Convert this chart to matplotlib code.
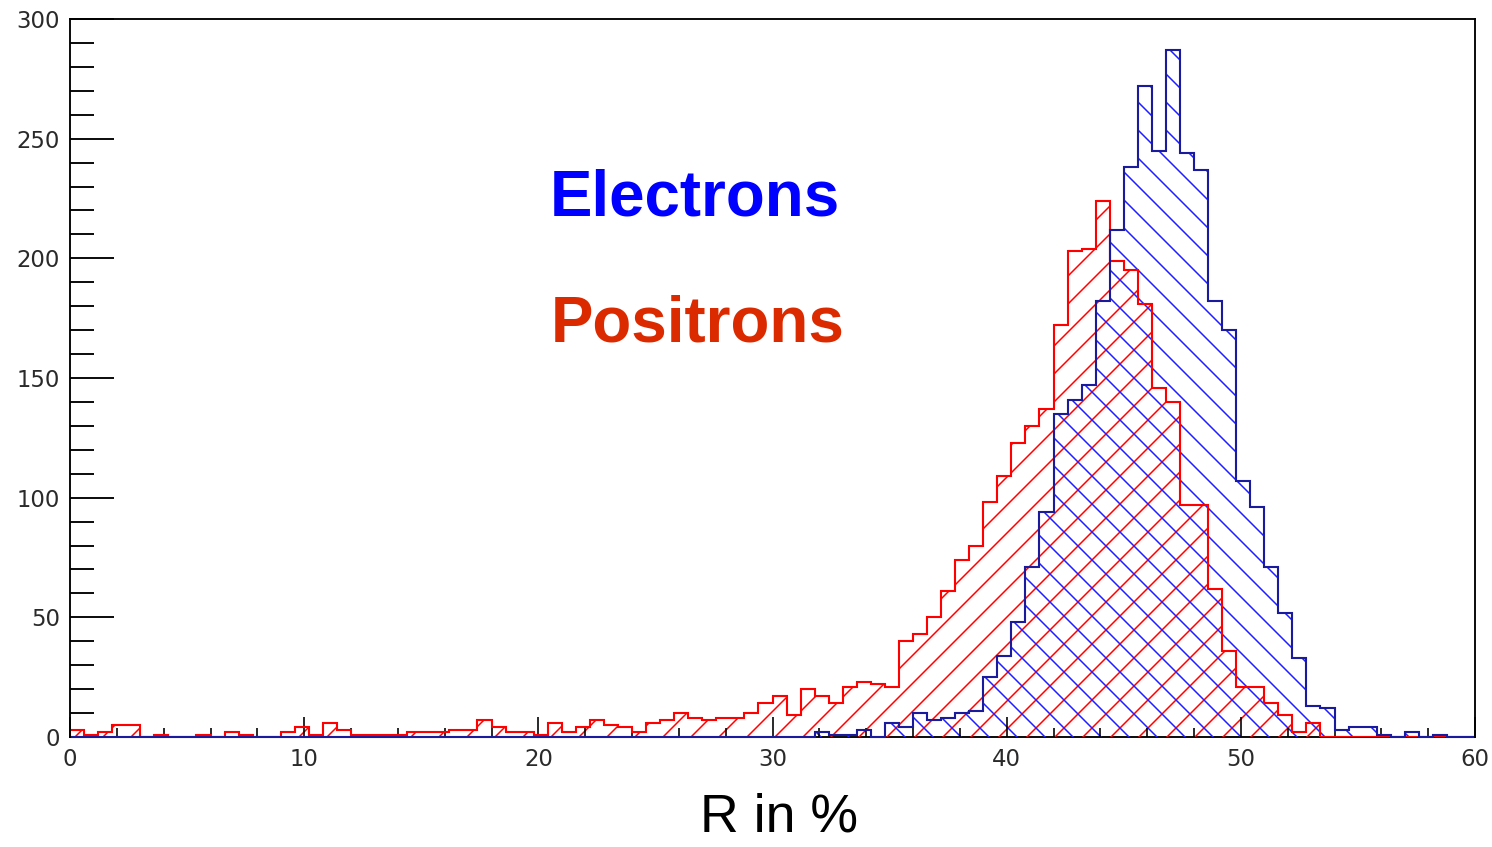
import numpy as np
import matplotlib
matplotlib.use("Agg")
import matplotlib.pyplot as plt

# histogram range and binning (100 bins of 0.6 %)
r_min, r_max, n_bins = 0, 60, 100

# counts per bin
positrons = [3, 1, 2, 5, 5, 0, 1, 0, 0, 1,
             0, 2, 1, 0, 0, 2, 4, 1, 6, 3,
             1, 1, 1, 1, 2, 2, 2, 3, 3, 7,
             4, 2, 2, 1, 6, 2, 4, 7, 5, 4,
             2, 6, 7, 10, 8, 7, 8, 8, 10, 14,
             17, 9, 20, 17, 14, 21, 23, 22, 21, 40,
             43, 50, 61, 74, 80, 98, 109, 123, 130, 137,
             172, 203, 204, 224, 199, 195, 181, 146, 140, 97,
             97, 62, 36, 21, 21, 14, 9, 2, 6, 0,
             0, 0, 0, 0, 0, 0, 0, 0, 0, 0]

electrons = [0, 0, 0, 0, 0, 0, 0, 0, 0, 0,
             0, 0, 0, 0, 0, 0, 0, 0, 0, 0,
             0, 0, 0, 0, 0, 0, 0, 0, 0, 0,
             0, 0, 0, 0, 0, 0, 0, 0, 0, 0,
             0, 0, 0, 0, 0, 0, 0, 0, 0, 0,
             0, 0, 0, 2, 1, 1, 3, 0, 6, 4,
             10, 7, 8, 10, 11, 25, 34, 48, 71, 94,
             135, 141, 147, 182, 212, 238, 272, 245, 287, 244,
             237, 182, 170, 107, 96, 71, 52, 33, 13, 12,
             3, 4, 4, 1, 0, 2, 0, 1, 0, 0]

edges = np.linspace(r_min, r_max, n_bins + 1)

DPI = 84
W, H = 1492, 847
plt.rcParams["hatch.linewidth"] = 1.3

fig = plt.figure(figsize=(W / DPI, H / DPI), dpi=DPI)
ax = fig.add_axes([70 / W, 1 - 737 / H, (1475 - 70) / W, (737 - 19) / H])

red = "#ff0000"
blue_line = "#1a1a9c"
blue_hatch = "#1f1fff"

# hatched fills
ax.stairs(positrons, edges, fill=True, facecolor="none", edgecolor=red,
          hatch="/", linewidth=0, zorder=1)
ax.stairs(electrons, edges, fill=True, facecolor="none", edgecolor=blue_hatch,
          hatch="\\", linewidth=0, zorder=1.1)
# outlines
ax.stairs(positrons, edges, color=red, linewidth=1.8, zorder=2)
ax.stairs(electrons, edges, color=blue_line, linewidth=1.8, zorder=2.1,
          clip_on=False)

ax.set_xlim(r_min, r_max)
ax.set_ylim(0, 300)

for side, sp in ax.spines.items():
    sp.set_linewidth(1.6)
ax.spines["bottom"].set_zorder(0.5)

ax.set_xticks(np.arange(0, 61, 10))
ax.set_xticks(np.arange(0, 61, 2), minor=True)
ax.set_yticks(np.arange(0, 301, 50))
ax.set_yticks(np.arange(0, 301, 10), minor=True)

tick_font = dict(family="DejaVu Sans", size=19.5, color="#2a2a2a")
ax.tick_params(axis="x", which="major", direction="in", length=17, width=1.4,
               pad=9, top=False)
ax.tick_params(axis="x", which="minor", direction="in", length=7.5, width=1.4,
               top=False)
ax.tick_params(axis="y", which="major", direction="in", length=37.7, width=1.6,
               pad=8.5, right=False)
ax.tick_params(axis="y", which="minor", direction="in", length=20.5, width=1.6,
               right=False)
for lab in ax.get_xticklabels() + ax.get_yticklabels():
    lab.set_fontfamily(tick_font["family"])
    lab.set_fontsize(tick_font["size"])
    lab.set_color(tick_font["color"])

fig.text(550 / W, 1 - 216 / H, "Electrons", color="#0000ff", fontsize=54.5,
         fontweight="bold", family="Liberation Sans", va="baseline", ha="left")
fig.text(551 / W, 1 - 341 / H, "Positrons", color="#dc2a00", fontsize=54.5,
         fontweight="bold", family="Liberation Sans", va="baseline", ha="left")
fig.text(700 / W, 1 - 831 / H, "R in %", color="black", fontsize=46,
         family="Liberation Sans", va="baseline", ha="left")

fig.savefig("out.png", dpi=DPI)
